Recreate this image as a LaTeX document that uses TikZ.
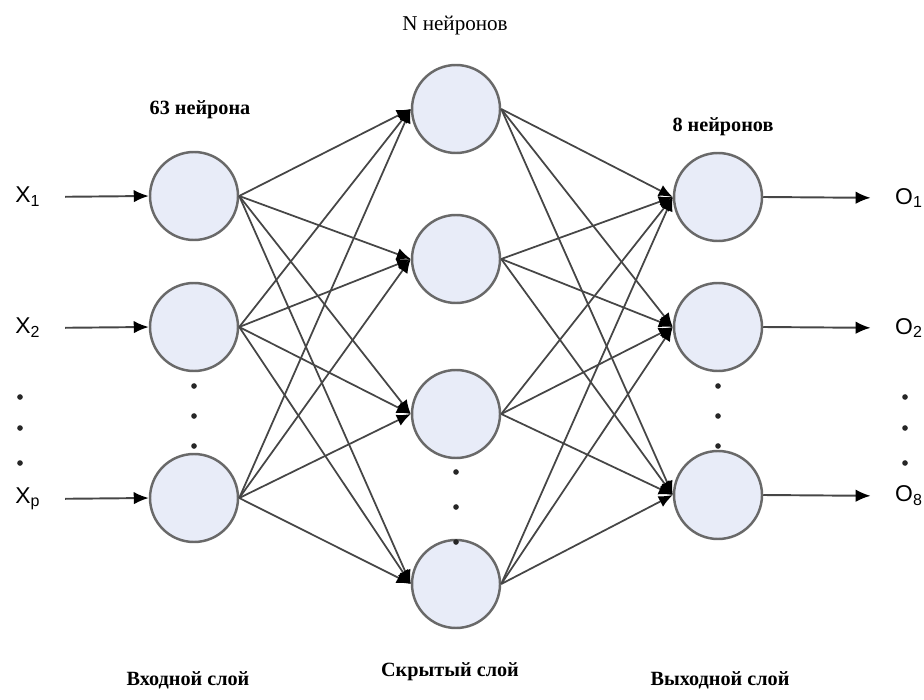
\documentclass[tikz,border=0pt]{standalone}
\usepackage{fontspec}
\setmainfont{Liberation Serif}
\setsansfont{Liberation Sans}
\usetikzlibrary{arrows.meta}

\definecolor{neuronfill}{RGB}{232,236,248}
\definecolor{rimgray}{RGB}{105,105,105}
\definecolor{linkgray}{RGB}{70,70,70}

\tikzset{
	neuron/.style={circle, draw=rimgray, line width=1.4pt, fill=neuronfill, minimum size=1.76cm, inner sep=0pt},
	link/.style={draw=linkgray, line width=1pt, -{Latex[black,length=2.8mm,width=2.4mm]}},
	ioarrow/.style={draw=linkgray, line width=1.1pt, -{Latex[black,length=3mm,width=2.5mm]}},
	vdot/.style={circle, fill=black!85, inner sep=0pt, minimum size=3.2pt},
	iolabel/.style={font=\sffamily\fontsize{13}{15}\selectfont, inner sep=1pt},
	layertext/.style={font=\bfseries\fontsize{11.5}{13}\selectfont}
}

\begin{document}
\begin{tikzpicture}[x=0.2cm,y=-0.2cm]
	\useasboundingbox (0,0) rectangle (92.4,70);

	% layers
	\foreach \y [count=\i] in {19.6,32.7,49.8}
		\node[neuron] (in\i) at (19.4,\y) {};
	\foreach \y [count=\i] in {10.9,25.9,41.4,58.4}
		\node[neuron] (hid\i) at (45.6,\y) {};
	\foreach \y [count=\i] in {19.7,32.7,49.5}
		\node[neuron] (out\i) at (71.8,\y) {};

	% connections
	\foreach \i in {1,2,3}
		\foreach \j in {1,...,4}
			\draw[link] (in\i.east) -- (hid\j.west);
	\foreach \j in {1,...,4}
		\foreach \k in {1,2,3}
			\draw[link] (hid\j.east) -- (out\k.west);

	% inputs and outputs
	\node[iolabel] (x1) at (2.8,19.7) {X\textsubscript{1}};
	\node[iolabel] (x2) at (2.8,32.8) {X\textsubscript{2}};
	\node[iolabel] (x3) at (2.8,49.9) {X\textsubscript{p}};
	\node[iolabel] (o1) at (90.9,19.8) {O\textsubscript{1}};
	\node[iolabel] (o2) at (90.9,32.8) {O\textsubscript{2}};
	\node[iolabel] (o3) at (90.9,49.6) {O\textsubscript{8}};
	\foreach \i in {1,2,3}{
		\draw[ioarrow, shorten <=0.45cm] (x\i.east) -- (in\i.west);
		\draw[ioarrow, shorten >=0.45cm] (out\i.east) -- (o\i.west);
	}

	% dots
	\foreach \y in {39.7,42.8,46.3}{
		\node[vdot] at (2,\y) {};
		\node[vdot] at (90.5,\y) {};
	}
	\foreach \y in {38.6,41.6,44.6}{
		\node[vdot] at (19.4,\y) {};
		\node[vdot] at (71.8,\y) {};
	}
	\foreach \y in {47.2,50.7,54.2}
		\node[vdot] at (45.6,\y) {};

	% captions
	\node[font=\fontsize{12}{14}\selectfont] (ntop) at (45.5,2.6) {N нейронов};
	\node[layertext] (intop) at (20,11) {63 нейрона};
	\node[layertext] (outtop) at (72.3,12.7) {8 нейронов};
	\node[layertext] (inname) at (18.8,68) {Входной слой};
	\node[layertext] (hidname) at (45,67.2) {Скрытый слой};
	\node[layertext] (outname) at (72,68) {Выходной слой};
\end{tikzpicture}
\end{document}
